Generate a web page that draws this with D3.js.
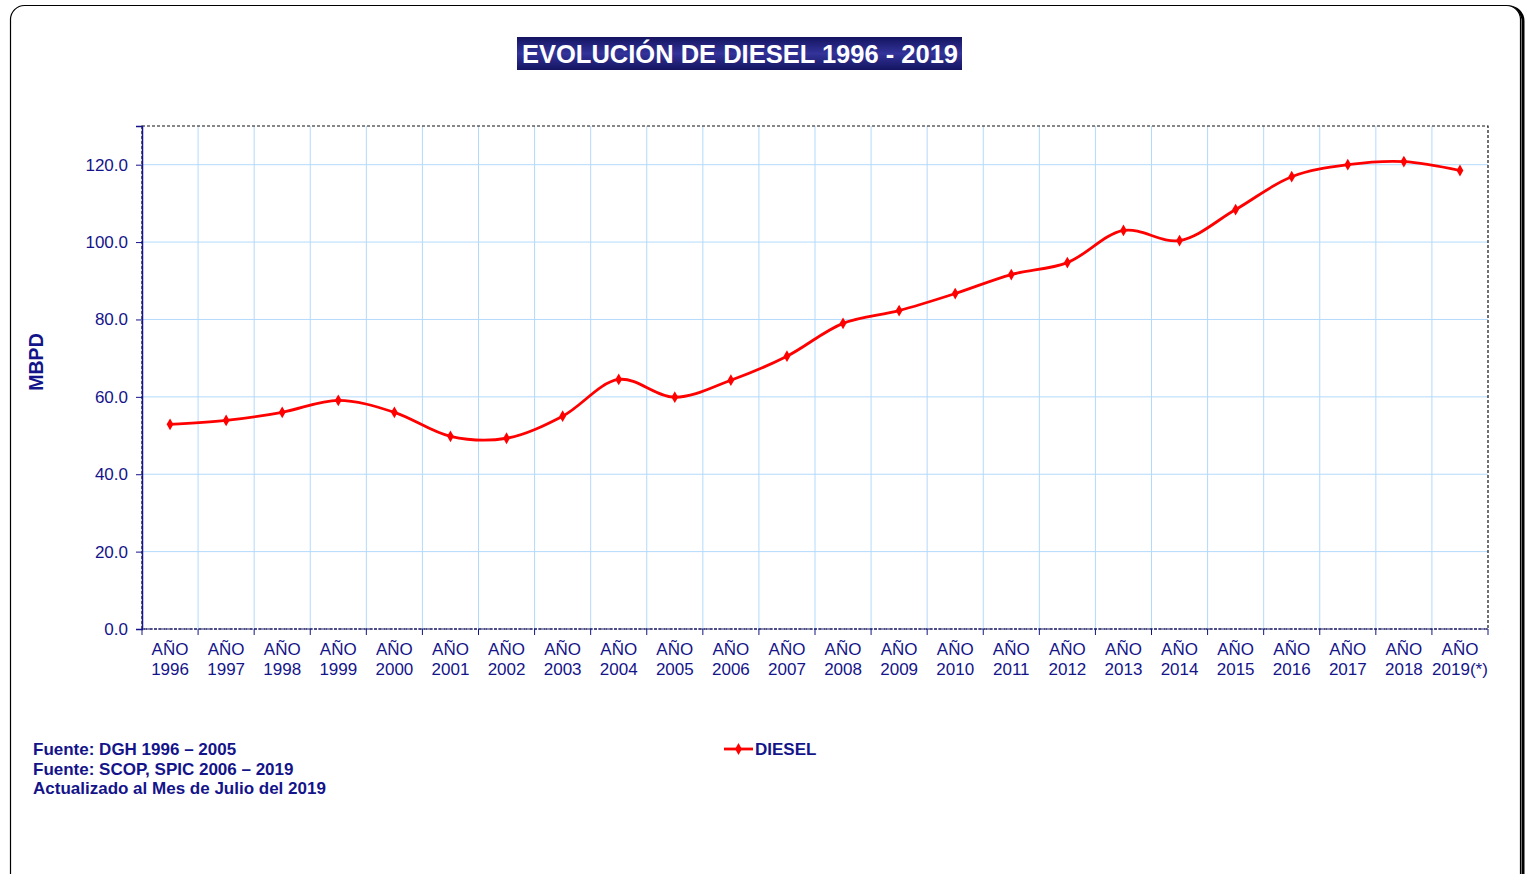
<!DOCTYPE html>
<html>
<head>
<meta charset="utf-8">
<script src="https://cdn.jsdelivr.net/npm/d3@7"></script>
<style>
  body { margin: 0; background: #fff; }
  svg { display: block; font-family: "Liberation Sans", Arial, sans-serif; }
</style>
</head>
<body>
<div class="canvas"></div>
<script>
// data
const years = ['1996', '1997', '1998', '1999', '2000', '2001', '2002', '2003', '2004', '2005', '2006', '2007',
  '2008', '2009', '2010', '2011', '2012', '2013', '2014', '2015', '2016', '2017', '2018', '2019(*)']
const diesel = [52.9, 53.9, 56.0, 59.1, 56.0, 49.8, 49.3, 55.0, 64.5, 59.9, 64.3, 70.5,
  79.0, 82.3, 86.7, 91.6, 94.7, 103.0, 100.4, 108.4, 116.9, 120.0, 120.8, 118.5]
const yTicks = [0, 20, 40, 60, 80, 100, 120]
const notes = ['Fuente: DGH 1996 \u2013 2005', 'Fuente: SCOP, SPIC 2006 \u2013 2019', 'Actualizado al Mes de Julio del 2019']

const size = {width: 1526, height: 874}
const margin = {top: 126, right: 38, bottom: 245, left: 142}
const inner = {
  width: size.width - margin.left - margin.right,
  height: size.height - margin.top - margin.bottom
}
const navy = '#14148a'

const svg = d3.select('.canvas').append('svg')
  .attr('width', size.width)
  .attr('height', size.height)

// gradient for title box
const grad = svg.append('defs').append('linearGradient')
  .attr('id', 'titleGrad').attr('x1', 0).attr('y1', 0).attr('x2', 0).attr('y2', 1)
grad.append('stop').attr('offset', '0%').attr('stop-color', '#141460')
grad.append('stop').attr('offset', '50%').attr('stop-color', '#33339a')
grad.append('stop').attr('offset', '100%').attr('stop-color', '#141460')

// outer frame with shadow on the right
svg.append('rect')
  .attr('x', 13).attr('y', 7).attr('width', 1510).attr('height', 900)
  .attr('rx', 14).attr('fill', 'none').attr('stroke', '#000').attr('stroke-width', 3)
svg.append('rect')
  .attr('x', 10.5).attr('y', 5.5).attr('width', 1510).attr('height', 900)
  .attr('rx', 14).attr('fill', '#fff').attr('stroke', '#000').attr('stroke-width', 1.2)

// title
svg.append('rect')
  .attr('x', 517).attr('y', 37).attr('width', 445).attr('height', 33)
  .attr('fill', 'url(#titleGrad)')
svg.append('text')
  .attr('x', 740).attr('y', 62.5)
  .attr('text-anchor', 'middle')
  .attr('fill', '#fff').attr('font-weight', 'bold').attr('font-size', 25.5)
  .text('EVOLUCIÓN DE DIESEL 1996 - 2019')

const g = svg.append('g')
  .attr('transform', `translate(${margin.left}, ${margin.top})`)

const x = d3.scaleBand().domain(years).range([0, inner.width])
const y = d3.scaleLinear().domain([0, 130]).range([inner.height, 0])

// grid
g.append('g').selectAll('line.h')
  .data(yTicks.filter(d => d > 0))
  .join('line')
  .attr('x1', 0).attr('x2', inner.width)
  .attr('y1', d => y(d)).attr('y2', d => y(d))
  .attr('stroke', '#b3dafc').attr('stroke-width', 1)
g.append('g').selectAll('line.v')
  .data(years.slice(1))
  .join('line')
  .attr('x1', d => x(d)).attr('x2', d => x(d))
  .attr('y1', 0).attr('y2', inner.height)
  .attr('stroke', '#b3dafc').attr('stroke-width', 1)

// plot frame (dashed)
g.append('rect')
  .attr('x', 0).attr('y', 0).attr('width', inner.width).attr('height', inner.height)
  .attr('fill', 'none').attr('stroke', '#111').attr('stroke-width', 1.2)
  .attr('stroke-dasharray', '3,2')

// y axis
const yAxis = g.append('g')
  .call(d3.axisLeft(y).tickValues(yTicks).tickSize(6).tickFormat(d3.format('.1f')))
yAxis.select('.domain').attr('stroke', navy).attr('stroke-width', 1.5)
yAxis.selectAll('.tick line').attr('stroke', navy)
yAxis.selectAll('text').attr('fill', navy).attr('font-size', 17)
  .attr('font-family', '"Liberation Sans", Arial, sans-serif').attr('x', -14)

// x axis: ticks on band edges
const xAxis = g.append('g').attr('transform', `translate(0, ${inner.height})`)
xAxis.append('line')
  .attr('x1', 0).attr('x2', inner.width)
  .attr('stroke', navy).attr('stroke-width', 1.2).attr('stroke-dasharray', '3,1')
xAxis.selectAll('line.tk')
  .data(years.concat(['end']))
  .join('line')
  .attr('x1', (d, i) => i * x.bandwidth()).attr('x2', (d, i) => i * x.bandwidth())
  .attr('y1', 0).attr('y2', 6)
  .attr('stroke', navy).attr('stroke-width', 1)
const xLabels = xAxis.selectAll('text.lbl')
  .data(years)
  .join('text')
  .attr('text-anchor', 'middle')
  .attr('fill', navy).attr('font-size', 17)
  .attr('transform', d => `translate(${x(d) + x.bandwidth() / 2}, 0)`)
xLabels.append('tspan').attr('x', 0).attr('y', 26).text('AÑO')
xLabels.append('tspan').attr('x', 0).attr('y', 46).text(d => d)

// y title
svg.append('text')
  .attr('transform', 'translate(43, 362) rotate(-90)')
  .attr('text-anchor', 'middle')
  .attr('fill', navy).attr('font-weight', 'bold').attr('font-size', 19.5)
  .text('MBPD')

// line
const line = d3.line()
  .x((d, i) => x(years[i]) + x.bandwidth() / 2)
  .y(d => y(d))
  .curve(d3.curveCatmullRom.alpha(0.5))
g.append('path')
  .datum(diesel)
  .attr('fill', 'none').attr('stroke', '#ff0000').attr('stroke-width', 2.8)
  .attr('d', line)

const diamond = d3.symbol().type(d3.symbolDiamond).size(40)
g.selectAll('path.pt')
  .data(diesel)
  .join('path')
  .attr('d', diamond)
  .attr('fill', '#ff0000')
  .attr('transform', (d, i) => `translate(${x(years[i]) + x.bandwidth() / 2}, ${y(d)})`)

// legend
const legend = svg.append('g').attr('transform', 'translate(724, 749)')
legend.append('line').attr('x1', 0).attr('x2', 29)
  .attr('stroke', '#ff0000').attr('stroke-width', 2.8)
legend.append('path').attr('d', diamond).attr('fill', '#ff0000')
  .attr('transform', 'translate(14.5, 0)')
legend.append('text').attr('x', 31).attr('y', 6)
  .attr('fill', navy).attr('font-weight', 'bold').attr('font-size', 17)
  .text('DIESEL')

// footnotes
svg.append('g').selectAll('text')
  .data(notes)
  .join('text')
  .attr('x', 33).attr('y', (d, i) => 755 + i * 19.5)
  .attr('fill', navy).attr('font-weight', 'bold').attr('font-size', 17)
  .text(d => d)
</script>
</body>
</html>
